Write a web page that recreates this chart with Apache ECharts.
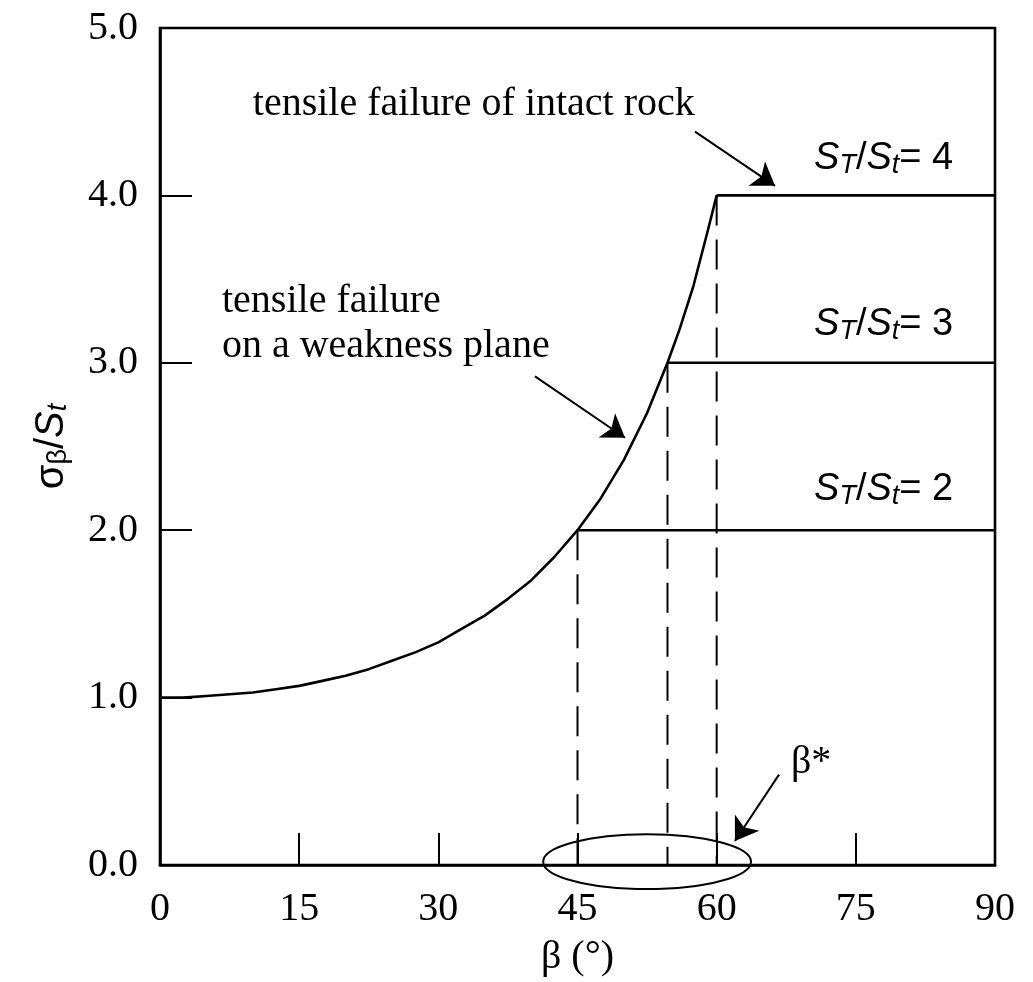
<!DOCTYPE html>
<html>
<head>
<meta charset="utf-8">
<script src="https://cdn.jsdelivr.net/npm/echarts@6/dist/echarts.min.js"></script>
<style>html,body{margin:0;padding:0;background:#fff}#c{width:1033px;height:982px}</style>
</head>
<body>
<div id="c"></div>
<script>
// ---- data ----
const curveBeta  = [0, 2.5, 5, 7.5, 10, 12.5, 15, 17.5, 20, 22.5, 25, 27.5, 30, 32.5, 35, 37.5, 40, 42.5, 45, 47.5, 50, 52.5, 54.7, 56, 57.5, 59, 60];
const curveSigma = [1.00, 1.00, 1.01, 1.02, 1.03, 1.05, 1.07, 1.10, 1.13, 1.17, 1.22, 1.27, 1.33, 1.41, 1.49, 1.59, 1.70, 1.84, 2.00, 2.19, 2.42, 2.70, 3.00, 3.20, 3.46, 3.78, 4.00];
const ratioLevels = [2, 3, 4];          // S_T/S_t values (plateau heights)
const onsetBeta   = [45, 54.7, 60];     // beta* where each plateau starts
const betaMax = 90;
const xTickLabels = ['0', '15', '30', '45', '60', '75', '90'];
const yTickLabels = ['0.0', '1.0', '2.0', '3.0', '4.0', '5.0'];
// annotation anchors (data coordinates)
const arrowIntact = [[57.66, 4.381], [66.29, 4.057]];
const arrowWeak   = [[40.42, 2.919], [50.12, 2.552]];
const arrowStar   = [[66.72, 0.540], [61.97, 0.143]];
const ellipseStar = [52.5, 0.02, 11.2, 0.164]; // cx, cy, rx, ry in data units
const intactText = [10.0, 4.544];
const weakText   = [6.68, 3.234];
const ratioText  = [[70.5, 2.243], [70.5, 3.228], [70.5, 4.218]];
const starText   = [68.0, 0.612];

const serif = 'Liberation Serif';
const sans = 'Liberation Sans';

const curveData = curveBeta.map((b, i) => [b, curveSigma[i]]);

const series = [];
series.push({
  type: 'line', data: curveData, smooth: false, symbol: 'none',
  lineStyle: { color: '#000', width: 2.6, join: 'round' }, z: 5
});
ratioLevels.forEach((r, i) => {
  series.push({
    type: 'line', data: [[onsetBeta[i], r], [betaMax, r]], symbol: 'none',
    lineStyle: { color: '#000', width: 2.6 }, z: 5
  });
  series.push({
    type: 'line', data: [[onsetBeta[i], r], [onsetBeta[i], 0]], symbol: 'none',
    lineStyle: { color: '#000', width: 2, type: [30, 14] }, z: 4
  });
});
series.push({
  type: 'lines', coordinateSystem: 'cartesian2d',
  symbol: ['none', 'arrow'], symbolSize: [16, 22],
  lineStyle: { color: '#000', width: 2, opacity: 1 },
  data: [{ coords: arrowIntact }, { coords: arrowWeak }, { coords: arrowStar }],
  z: 6
});
series.push({
  type: 'custom', data: [ellipseStar], clip: false, z: 6,
  renderItem: function (params, api) {
    const c = api.coord([api.value(0), api.value(1)]);
    const s = api.size([api.value(2), api.value(3)]);
    return { type: 'ellipse', shape: { cx: c[0], cy: c[1], rx: s[0], ry: s[1] },
      style: { fill: 'none', stroke: '#000', lineWidth: 2 } };
  }
});

function ratioRich(v) {
  return '{s|S}{sub|T}{n|/}{s|S}{sub|t}{n|= ' + v + '}';
}
const ratioRichStyle = {
  s: { fontFamily: sans, fontStyle: 'italic', fontSize: 38, lineHeight: 40, color: '#000' },
  sub: { fontFamily: sans, fontStyle: 'italic', fontSize: 27, lineHeight: 8, verticalAlign: 'bottom', color: '#000' },
  n: { fontFamily: sans, fontSize: 38, lineHeight: 40, color: '#000' }
};

const baseLbl = { show: true, position: 'inside', align: 'left', verticalAlign: 'middle', color: '#000', textBorderWidth: 0, opacity: 1 };
const labelPts = [];
labelPts.push({ value: intactText, label: Object.assign({}, baseLbl, { formatter: 'tensile failure of intact rock', fontFamily: serif, fontSize: 40 }) });
labelPts.push({ value: weakText, label: Object.assign({}, baseLbl, { formatter: 'tensile failure\non a weakness plane', fontFamily: serif, fontSize: 40, lineHeight: 45 }) });
ratioText.forEach((p, i) => {
  labelPts.push({ value: p, label: Object.assign({}, baseLbl, { formatter: ratioRich(ratioLevels[i]), rich: ratioRichStyle }) });
});
labelPts.push({ value: starText, label: Object.assign({}, baseLbl, { formatter: 'β*', fontFamily: serif, fontSize: 40 }) });

series.push({
  type: 'scatter', symbolSize: 0, data: labelPts, z: 7, silent: true,
  itemStyle: { opacity: 1, color: '#000' },
  label: baseLbl
});

const chart = echarts.init(document.getElementById('c'), null, { renderer: 'canvas' });
chart.setOption({
  animation: false,
  backgroundColor: '#fff',
  grid: { left: 160, right: 38, top: 28, bottom: 116, show: true, borderColor: '#000', borderWidth: 2.6, backgroundColor: 'transparent' },
  xAxis: {
    type: 'value', min: 0, max: 90, interval: 15,
    axisLine: { show: true, lineStyle: { color: '#000', width: 2.6 } },
    axisTick: { show: true, inside: true, length: 32, lineStyle: { color: '#000', width: 2 } },
    splitLine: { show: false },
    axisLabel: { color: '#000', fontFamily: serif, fontSize: 40, margin: 24,
      formatter: v => xTickLabels[Math.round(v / 15)] },
    name: 'β (°)', nameLocation: 'middle', nameGap: 72,
    nameTextStyle: { color: '#000', fontFamily: serif, fontSize: 40 }
  },
  yAxis: {
    type: 'value', min: 0, max: 5, interval: 1,
    axisLine: { show: true, lineStyle: { color: '#000', width: 2.6 } },
    axisTick: { show: true, inside: true, length: 32, lineStyle: { color: '#000', width: 2 } },
    splitLine: { show: false },
    axisLabel: { color: '#000', fontFamily: serif, fontSize: 40, margin: 22,
      formatter: v => yTickLabels[Math.round(v)] },
    name: '{s|σ}{sub|β}{n|/}{i|S}{isub|t}', nameLocation: 'middle', nameGap: 88,
    nameTextStyle: {
      color: '#000',
      rich: {
        s: { fontFamily: sans, fontSize: 40, lineHeight: 40, color: '#000' },
        sub: { fontFamily: sans, fontSize: 27, lineHeight: 8, verticalAlign: 'bottom', color: '#000' },
        n: { fontFamily: sans, fontSize: 40, lineHeight: 40, color: '#000' },
        i: { fontFamily: sans, fontStyle: 'italic', fontSize: 40, lineHeight: 40, color: '#000' },
        isub: { fontFamily: sans, fontStyle: 'italic', fontSize: 27, lineHeight: 8, verticalAlign: 'bottom', color: '#000' }
      }
    }
  },
  series: series
});
</script>
</body>
</html>
